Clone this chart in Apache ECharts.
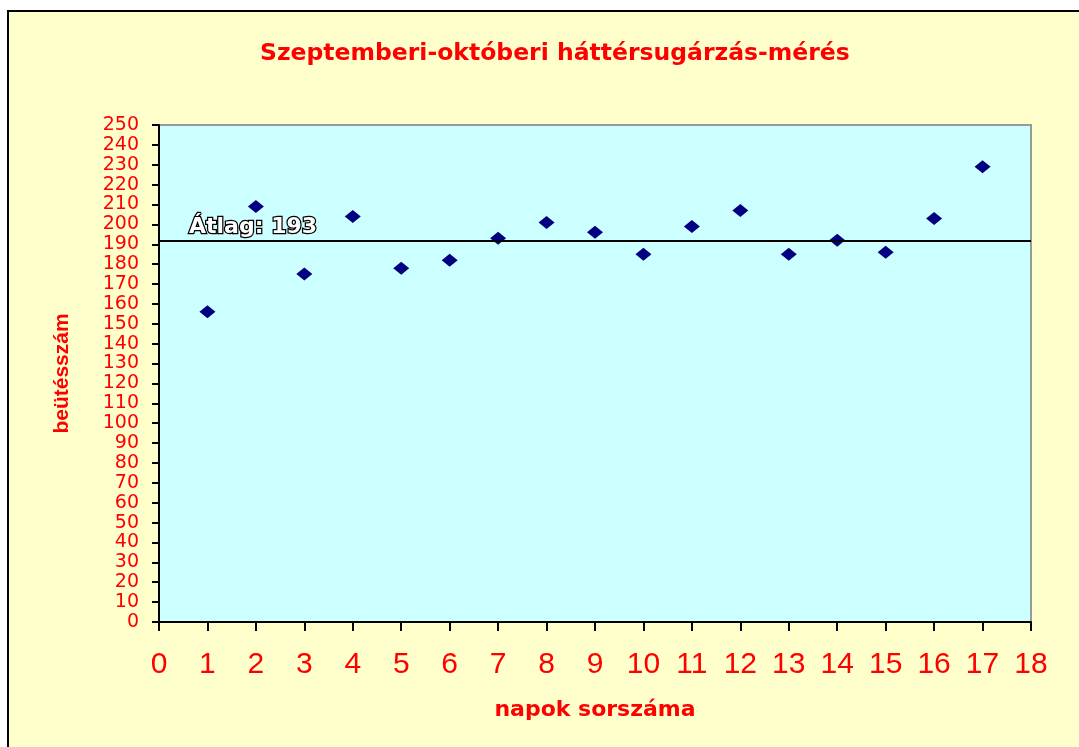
<!DOCTYPE html>
<html>
<head>
<meta charset="utf-8">
<script src="https://cdn.jsdelivr.net/npm/echarts@6/dist/echarts.min.js"></script>
<style>
	html, body { margin: 0; padding: 0; background: #fff; }
	#chart { width: 1079px; height: 747px; }
</style>
</head>
<body>
<div id="chart"></div>
<script>
// napok sorszáma (x) és beütésszám (y)
const days = [1, 2, 3, 4, 5, 6, 7, 8, 9, 10, 11, 12, 13, 14, 15, 16, 17]
const counts = [156, 209, 175, 204, 178, 182, 193, 201, 196, 185, 199, 207, 185, 192, 186, 203, 229]
const averageLevel = 192
const averageText = 'Átlag: 193'

const red = '#ff0000'
const wide = 'DejaVu Sans, Verdana, sans-serif'
const arial = 'Liberation Sans, Arial, sans-serif'
let myChart = echarts.init(document.getElementById('chart'))

let option = {
	backgroundColor: '#ffffff',
	animation: false,
	graphic: [{
		type: 'rect',
		z: -10,
		shape: { x: 8, y: 11, width: 1100, height: 800 },
		style: { fill: '#ffffcc', stroke: '#000000', lineWidth: 2 }
	}],
	title: {
		text: 'Szeptemberi-októberi háttérsugárzás-mérés',
		left: 255,
		top: 37,
		textStyle: { color: red, fontSize: 23.5, fontWeight: 'bold', fontFamily: wide }
	},
	grid: {
		left: 159,
		right: 48,
		top: 125,
		bottom: 125,
		show: true,
		backgroundColor: '#ccffff',
		borderColor: '#999999',
		borderWidth: 2
	},
	xAxis: {
		type: 'value',
		min: 0,
		max: 18,
		interval: 1,
		name: 'napok sorszáma',
		nameLocation: 'middle',
		nameGap: 77,
		nameTextStyle: { color: red, fontSize: 22, fontWeight: 'bold', fontFamily: wide },
		axisLine: { show: true, lineStyle: { color: '#000', width: 2 } },
		axisTick: { show: true, length: 9, lineStyle: { color: '#000', width: 2 } },
		axisLabel: { color: red, fontSize: 30, margin: 28, fontFamily: arial },
		splitLine: { show: false }
	},
	yAxis: {
		type: 'value',
		min: 0,
		max: 250,
		interval: 10,
		name: 'beütésszám',
		nameLocation: 'middle',
		nameGap: 86,
		nameTextStyle: { color: red, fontSize: 21, fontWeight: 'bold', fontFamily: arial },
		axisLine: { show: true, lineStyle: { color: '#000', width: 2 } },
		axisTick: { show: true, length: 7, lineStyle: { color: '#000', width: 2 } },
		axisLabel: { color: red, fontSize: 19, margin: 20, fontFamily: wide },
		splitLine: { show: false }
	},
	series: [{
		type: 'scatter',
		symbol: 'diamond',
		symbolSize: [16, 13],
		itemStyle: { color: '#000080', opacity: 1 },
		data: days.map((d, i) => [d, counts[i]]),
		markLine: {
			silent: true,
			symbol: ['none', 'none'],
			lineStyle: { color: '#000', width: 2, type: 'solid' },
			label: {
				show: true,
				position: 'insideStartTop',
				formatter: averageText,
				distance: [30, 2],
				color: '#ffffff',
				fontSize: 22,
				fontWeight: 'bold',
				fontFamily: wide,
				textBorderColor: '#000000',
				textBorderWidth: 2.5
			},
			data: [{ yAxis: averageLevel }]
		}
	}]
}
myChart.setOption(option)
</script>
</body>
</html>
